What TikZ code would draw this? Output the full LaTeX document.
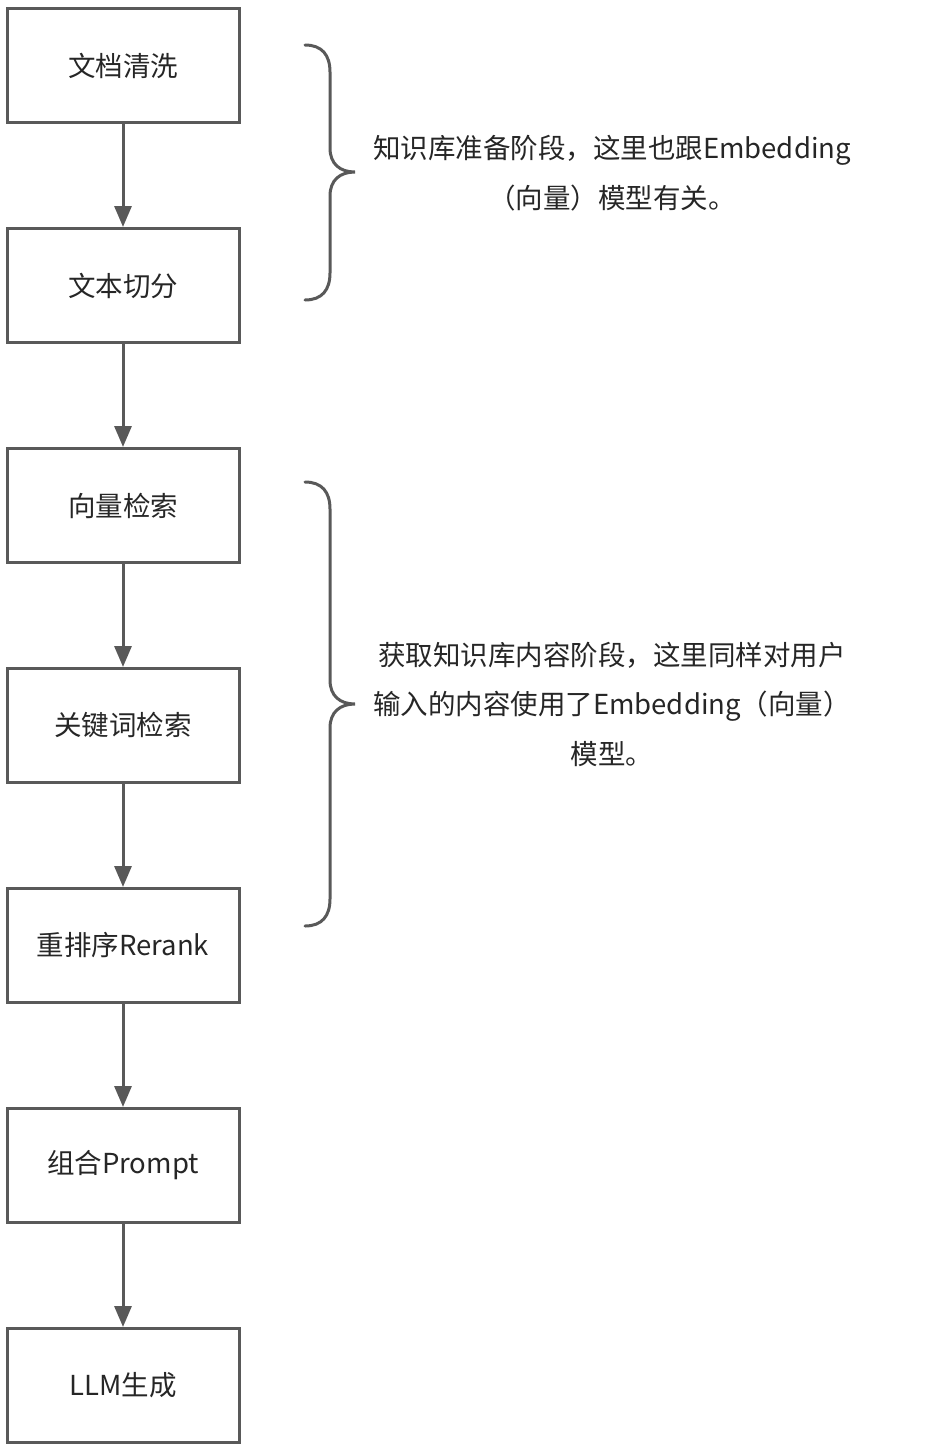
\documentclass[tikz,border=0pt]{standalone}
\usepackage{fontspec}
\setmainfont{Noto Sans CJK SC}
\usetikzlibrary{arrows.meta}
\definecolor{lc}{HTML}{595959}
\definecolor{tc}{HTML}{262626}
\begin{document}
\begin{tikzpicture}[x=1pt,y=-1pt,
  box/.style={draw=lc, line width=3pt, minimum width=232pt, minimum height=114pt, inner sep=0pt, font=\fontsize{27.5}{33}\selectfont, text=tc},
  arr/.style={draw=lc, line width=3pt, -{Triangle[length=21pt,width=17pt]}},
  brace/.style={draw=lc, line width=3pt, line cap=round},
  note/.style={align=center, font=\fontsize{27.5}{49.5}\selectfont, text=tc, inner sep=0pt}]
\useasboundingbox (0,0) rectangle (926,1452);
\node[box] (b1) at (123,65.5) {文档清洗};
\node[box] (b2) at (123,285.5) {文本切分};
\node[box] (b3) at (123,505.5) {向量检索};
\node[box] (b4) at (123,725.5) {关键词检索};
\node[box] (b5) at (123,945.5) {重排序Rerank};
\node[box] (b6) at (123,1165.5) {组合Prompt};
\node[box] (b7) at (123,1385.5) {LLM生成};
\draw[arr] (b1.south) -- (b2.north);
\draw[arr] (b2.south) -- (b3.north);
\draw[arr] (b3.south) -- (b4.north);
\draw[arr] (b4.south) -- (b5.north);
\draw[arr] (b5.south) -- (b6.north);
\draw[arr] (b6.south) -- (b7.north);
% braces
\draw[brace] (305,45) .. controls (322,45) and (330,55) .. (330,72)
  -- (330,148) .. controls (330,164) and (340,172) .. (355,172)
  .. controls (340,172) and (330,180) .. (330,196)
  -- (330,273) .. controls (330,290) and (322,300) .. (305,300);
\draw[brace] (305,482) .. controls (322,482) and (330,492) .. (330,509)
  -- (330,680) .. controls (330,696) and (340,704) .. (355,704)
  .. controls (340,704) and (330,712) .. (330,728)
  -- (330,899) .. controls (330,916) and (322,926) .. (305,926);
\node[note] (n1) at (612,173) {知识库准备阶段，这里也跟Embedding\\（向量）模型有关。};
\node[note] (n2) at (612,704) {获取知识库内容阶段，这里同样对用户\\输入的内容使用了Embedding（向量）\\模型。};
\end{tikzpicture}
\end{document}
